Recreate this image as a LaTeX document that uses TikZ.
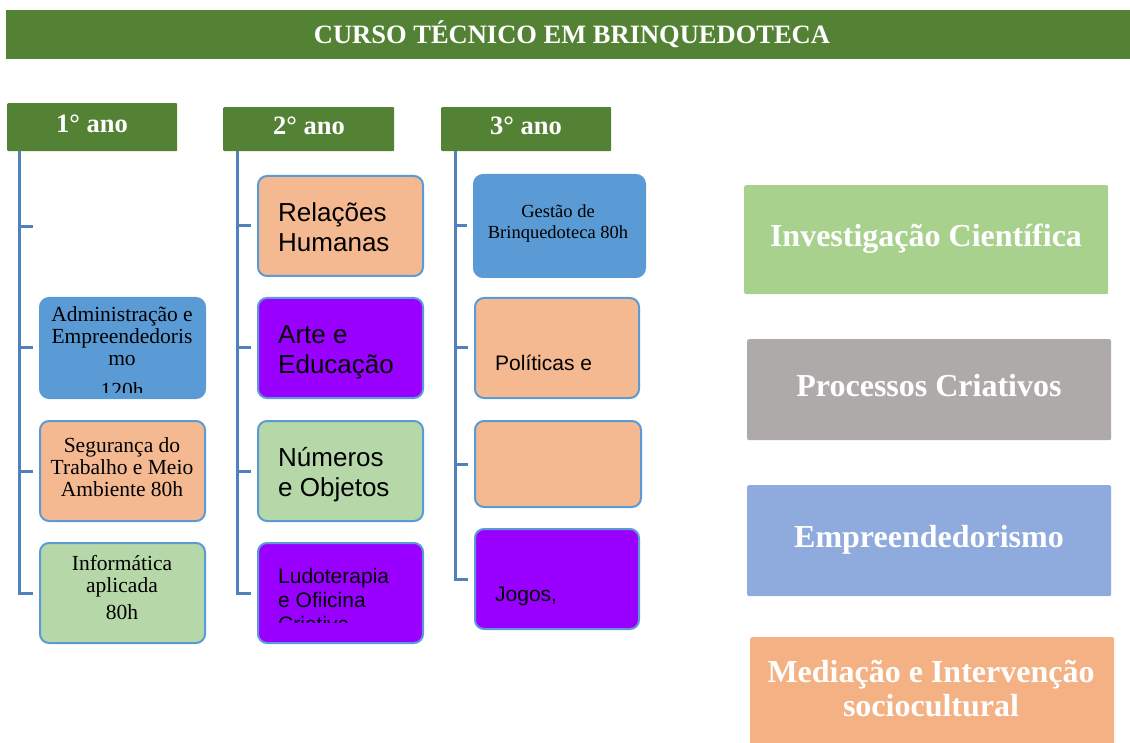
\documentclass[tikz,border=0pt]{standalone}
\usepackage{fontspec}
\setmainfont{Liberation Serif}
\newfontfamily\arialf{Liberation Sans}
\definecolor{dkgreen}{HTML}{548235}
\definecolor{bxblue}{HTML}{5B9BD5}
\definecolor{peach}{HTML}{F4B990}
\definecolor{ltgreen}{HTML}{B6D7A8}
\definecolor{purp}{HTML}{9900FF}
\definecolor{lnblue}{HTML}{4F81BD}
\definecolor{rgreen}{HTML}{A9D18E}
\definecolor{rgray}{HTML}{AEAAAA}
\definecolor{rblue}{HTML}{8FAADC}
\definecolor{rorange}{HTML}{F4B183}
\tikzset{
  band/.style={fill=dkgreen, draw=none, anchor=north west, inner sep=0pt},
  yearbox/.style={band, rounded corners=1pt},
  cbox/.style={draw=bxblue, line width=2pt, rounded corners=9pt, anchor=north west, inner sep=0pt, minimum width=165pt, minimum height=100pt},
  rbox/.style={draw=none, rounded corners=2pt, anchor=north west, inner sep=0pt, minimum width=364pt},
  conn/.style={draw=lnblue, line width=3pt},
  serift/.style={font=\fontsize{21.5}{22}\selectfont, align=center, inner sep=0pt, text=black},
  sanst/.style={font=\arialf\fontsize{26}{30}\selectfont, align=left, inner sep=0pt, anchor=west, text=black},
  sanss/.style={font=\arialf\fontsize{21}{24}\selectfont, align=left, inner sep=0pt, anchor=west, text=black},
  whitet/.style={text=white, font=\bfseries\fontsize{26.5}{30}\selectfont, inner sep=0pt},
  bigt/.style={text=white, font=\bfseries\fontsize{32}{34}\selectfont, align=center, inner sep=0pt},
}
\begin{document}
\begin{tikzpicture}[x=1pt,y=-1pt]
\useasboundingbox (0,0) rectangle (1130,743);
% title
\node[band, minimum width=1124pt, minimum height=49pt] (title) at (6,10) {};
\node[whitet] (titlet) at (572,34) {CURSO TÉCNICO EM BRINQUEDOTECA};
% year headers
\node[yearbox, minimum width=170pt, minimum height=48pt] (y1) at (7,103) {};
\node[whitet] (y1t) at (92,124) {1° ano};
\node[yearbox, minimum width=171pt, minimum height=44pt] (y2) at (223,107) {};
\node[whitet] (y2t) at (309,126) {2° ano};
\node[yearbox, minimum width=170pt, minimum height=44pt] (y3) at (441,107) {};
\node[whitet] (y3t) at (526,126) {3° ano};

% column 1 boxes
\coordinate (c10) at (39,227);
\node[cbox, fill=bxblue, draw=bxblue] (b11) at (39,297) {};
\begin{scope}
\clip (39,297) rectangle (205,392);
\node[serift] (b11t) at (122,352.5) {Administração e\\Empreendedoris\\mo\\[10pt]120h};
\end{scope}
\node[cbox, fill=peach] (b12) at (39,420) {};
\node[serift] (b12t) at (122,467.5) {Segurança do\\Trabalho e Meio\\Ambiente 80h};
\node[cbox, fill=ltgreen] (b13) at (39,542) {};
\node[serift] (b13t) at (122,588) {Informática\\aplicada\\[5pt]80h};

% column 2 boxes
\node[cbox, fill=peach] (b21) at (257,175) {};
\node[sanst] (b21t) at (278,227) {Relações\\Humanas};
\node[cbox, fill=purp] (b22) at (257,297) {};
\node[sanst] (b22t) at (278,352.5) {Arte e\\Educação};
\node[cbox, fill=ltgreen] (b23) at (257,420) {};
\node[sanst] (b23t) at (278,474.5) {Números\\e Objetos};
\node[cbox, fill=purp] (b24) at (257,542) {};
\begin{scope}
\clip (257,542) rectangle (422,622);
\node[sanss] (b24t) at (278,600) {Ludoterapia\\e Ofiicina\\Criativa};
\end{scope}

% column 3 boxes
\node[cbox, fill=bxblue, minimum width=171pt, minimum height=102pt] (b31) at (473,174) {};
\node[serift, font=\fontsize{18.5}{21}\selectfont] (b31t) at (558,224) {Gestão de\\Brinquedoteca 80h};
\node[cbox, fill=peach, minimum width=164pt] (b32) at (474,297) {};
\node[sanss] (b32t) at (495,363) {Políticas e};
\node[cbox, fill=peach, minimum width=166pt, minimum height=86pt] (b33) at (474,420) {};
\node[cbox, fill=purp, minimum width=164pt] (b34) at (474,528) {};
\node[sanss] (b34t) at (495,596) {Jogos,};

% connectors
\coordinate (v1) at (19,151);
\coordinate (v2) at (237,151);
\coordinate (v3) at (455,151);
\draw[conn] (v1) |- ([xshift=-6pt]b13.west);
\draw[conn] (v1 |- c10) -- ([xshift=-6pt]c10);
\draw[conn] (v1 |- b11.west) -- ([xshift=-6pt]b11.west);
\draw[conn] (v1 |- b12.west) -- ([xshift=-6pt]b12.west);
\draw[conn] (v2) |- ([xshift=-6pt]b24.west);
\draw[conn] (v2 |- b21.west) -- ([xshift=-6pt]b21.west);
\draw[conn] (v2 |- b22.west) -- ([xshift=-6pt]b22.west);
\draw[conn] (v2 |- b23.west) -- ([xshift=-6pt]b23.west);
\draw[conn] (v3) |- ([xshift=-6pt]b34.west);
\draw[conn] (v3 |- b31.west) -- ([xshift=-6pt]b31.west);
\draw[conn] (v3 |- b32.west) -- ([xshift=-6pt]b32.west);
\draw[conn] (v3 |- b33.west) -- ([xshift=-6pt]b33.west);

% right boxes
\node[rbox, fill=rgreen, minimum height=109pt] (r1) at (744,185) {};
\node[bigt] (r1t) at (926,239) {Investigação Científica};
\node[rbox, fill=rgray, minimum height=101pt] (r2) at (747,339) {};
\node[bigt] (r2t) at (929,386) {Processos Criativos};
\node[rbox, fill=rblue, minimum height=111pt] (r3) at (747,485) {};
\node[bigt] (r3t) at (929,540) {Empreendedorismo};
\node[rbox, fill=rorange, minimum height=120pt] (r4) at (750,637) {};
\node[bigt] (r4t) at (931,689) {Mediação e Intervenção\\sociocultural};
\end{tikzpicture}
\end{document}
